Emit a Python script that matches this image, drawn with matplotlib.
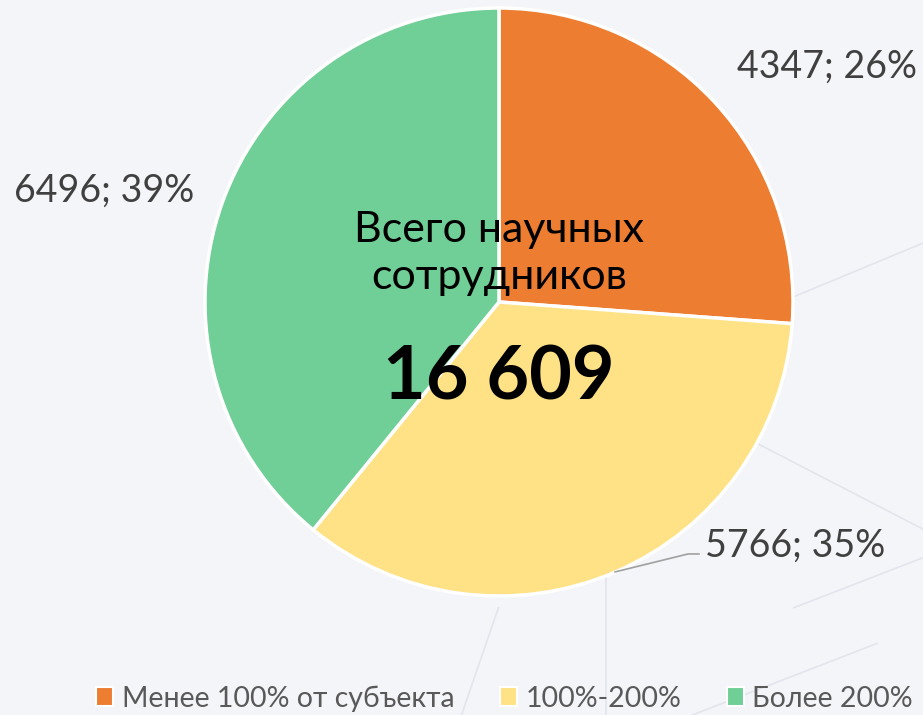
import matplotlib.pyplot as plt
from matplotlib.patches import Patch
from matplotlib.lines import Line2D

### data
categories = ['Менее 100% от субъекта', '100%-200%', 'Более 200%']
values = [4347, 5766, 6496]
colors = ['#ED7D31', '#FFE285', '#70CE97']
total_label = '16 609'
center_title = 'Всего научных\nсотрудников'

plt.rcParams['font.family'] = ['Lato', 'DejaVu Sans']
bg = '#F4F5F9'

fig = plt.figure(figsize=(9.23, 7.15), dpi=100)
fig.patch.set_facecolor(bg)

### faint background network lines (decoration)
for (x0, y0, x1, y1) in [(0.86, 0.585, 1.0, 0.66), (0.82, 0.38, 1.0, 0.26),
                         (0.657, 0.20, 0.657, 0.0), (0.54, 0.15, 0.50, 0.0),
                         (0.75, 0.0, 0.95, 0.10), (0.86, 0.15, 1.0, 0.22)]:
    fig.add_artist(Line2D([x0, x1], [y0, y1], color='#E3E5EC', lw=1.2, zorder=0))

# axes placed so the pie (radius 1) sits at pixel centre (499, 302), r=294
cx, cy, r = 499 / 923, 1 - 302 / 715, 294
w, h = r / 923, r / 715
ax = fig.add_axes([cx - w, cy - h, 2 * w, 2 * h])
ax.set_facecolor('none')

wedges, _ = ax.pie(values, colors=colors, startangle=90, counterclock=False,
                   radius=1, wedgeprops=dict(edgecolor='white', linewidth=2.5))
ax.set_xlim(-1, 1)
ax.set_ylim(-1, 1)
ax.set_aspect('equal')
ax.axis('off')

total = sum(values)
pcts = [round(100 * v / total) for v in values]
labels = ['{0}; {1}%'.format(v, p) for v, p in zip(values, pcts)]

txt_kw = dict(fontsize=27, color='#404040', clip_on=False)
ax.text(0.81, 0.80, labels[0], ha='left', va='center', **txt_kw)
ax.text(0.70, -0.83, labels[1], ha='left', va='center', **txt_kw)
ax.text(-1.035, 0.38, labels[2], ha='right', va='center', **txt_kw)
# leader line for the yellow slice
ax.plot([0.395, 0.643, 0.68], [-0.918, -0.857, -0.857], color='#A0A0A0', lw=1.2, clip_on=False)

### centre text
ax.text(0, 0.165, center_title, ha='center', va='center', fontsize=31,
        color='black', linespacing=1.3)
ax.text(0, -0.26, total_label, ha='center', va='center', fontsize=53,
        fontweight='bold', color='black')

### legend
handles = [Patch(facecolor=c, edgecolor='white', linewidth=1.5) for c in colors]
leg = fig.legend(handles, categories, loc='lower right', ncol=3,
                 bbox_to_anchor=(1.017, -0.031), frameon=False, fontsize=20.5,
                 handlelength=0.6, handleheight=0.6, handletextpad=0.3,
                 columnspacing=1.6, labelcolor='#595959')

fig.savefig('out.png', dpi=100, facecolor=bg)
